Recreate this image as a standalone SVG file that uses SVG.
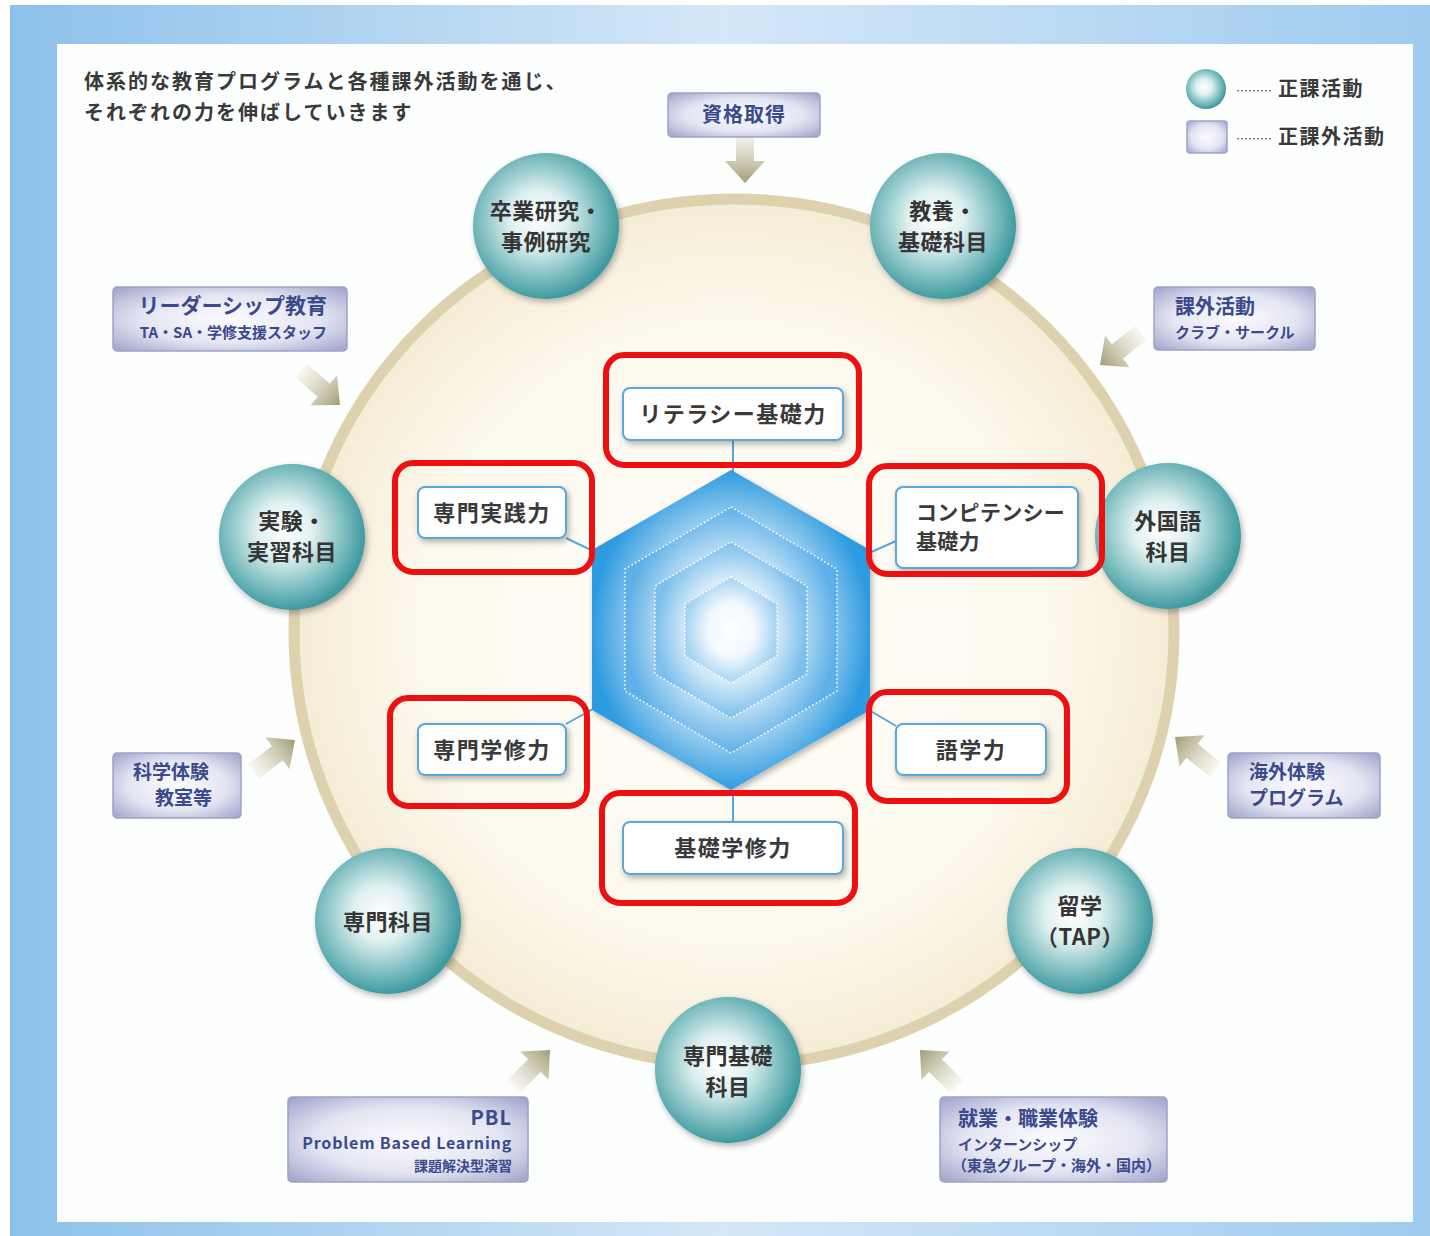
<svg xmlns="http://www.w3.org/2000/svg" width="1430" height="1236" viewBox="0 0 1430 1236">
<defs>
<linearGradient id="bgFrame" x1="0" y1="0" x2="1" y2="0">
<stop offset="0" stop-color="#8dc1ea"/>
<stop offset="0.5" stop-color="#d4e7f7"/>
<stop offset="1" stop-color="#9fcbef"/>
</linearGradient>
<radialGradient id="cream" cx="0.5" cy="0.5" r="0.5">
<stop offset="0" stop-color="#fffefa"/>
<stop offset="0.7" stop-color="#fdf9ee"/>
<stop offset="1" stop-color="#f5ecd6"/>
</radialGradient>
<radialGradient id="ball" cx="0.45" cy="0.45" r="0.55">
<stop offset="0" stop-color="#ffffff"/>
<stop offset="0.35" stop-color="#dff0f0"/>
<stop offset="0.8" stop-color="#6fb6b9"/>
<stop offset="1" stop-color="#3f9aa0"/>
</radialGradient>
<radialGradient id="boxg" cx="0.5" cy="0.5" r="0.7">
<stop offset="0" stop-color="#fbfbfe"/>
<stop offset="0.55" stop-color="#e4e5f2"/>
<stop offset="1" stop-color="#9ea2cb"/>
</radialGradient>
<radialGradient id="h1" cx="0.5" cy="0.5" r="0.5">
<stop offset="0" stop-color="#eaf5fc"/>
<stop offset="0.6" stop-color="#b9dcf4"/>
<stop offset="1" stop-color="#2e9be0"/>
</radialGradient>
<radialGradient id="h2" cx="0.5" cy="0.5" r="0.5">
<stop offset="0" stop-color="#f0f8fd"/>
<stop offset="0.6" stop-color="#c6e3f6"/>
<stop offset="1" stop-color="#5eb0e8"/>
</radialGradient>
<radialGradient id="h3" cx="0.5" cy="0.5" r="0.5">
<stop offset="0" stop-color="#f6fbfe"/>
<stop offset="0.6" stop-color="#d2e9f8"/>
<stop offset="1" stop-color="#7cbfec"/>
</radialGradient>
<radialGradient id="h4" cx="0.5" cy="0.5" r="0.5">
<stop offset="0" stop-color="#ffffff"/>
<stop offset="0.5" stop-color="#f2f9fe"/>
<stop offset="1" stop-color="#a6d3f2"/>
</radialGradient>
<linearGradient id="arrowg" x1="0" y1="0" x2="1" y2="0">
<stop offset="0" stop-color="#f4f3e8" stop-opacity="0.6"/>
<stop offset="1" stop-color="#a19c74"/>
</linearGradient>
<filter id="sh" x="-20%" y="-20%" width="140%" height="140%">
<feGaussianBlur in="SourceAlpha" stdDeviation="3"/>
<feOffset dx="2" dy="3" result="b"/>
<feComponentTransfer><feFuncA type="linear" slope="0.3"/></feComponentTransfer>
<feMerge><feMergeNode/><feMergeNode in="SourceGraphic"/></feMerge>
</filter>
<path id="arr" d="M-52,-9 L-22,-9 L-22,-20 L0,0 L-22,20 L-22,9 L-52,9 Z"/>
</defs>
<style>
text{font-family:"Noto Sans CJK JP","Noto Sans",sans-serif;}
.ct{font-size:22px;font-weight:bold;fill:#353535;text-anchor:middle;letter-spacing:0.5px;}
.bt{font-weight:bold;fill:#3b4a8c;}
.st{font-size:22px;font-weight:bold;fill:#3a3a3a;letter-spacing:1.5px;}
.st2{font-size:21px;font-weight:bold;fill:#3a3a3a;letter-spacing:0.3px;}
.lg{font-size:20px;font-weight:bold;fill:#3a3a3a;letter-spacing:1.5px;}
.ttl{font-size:20px;font-weight:bold;fill:#3a3a3a;letter-spacing:2px;}
.ball{fill:url(#ball);filter:url(#sh);}
.box{fill:url(#boxg);stroke:#9ea2c9;stroke-width:1.5;}
.skill{fill:#ffffff;stroke:#5aa7dc;stroke-width:2;filter:url(#sh);}
.hl{fill:none;stroke:#ee1010;stroke-width:6;}
.conn{stroke:#5aa7dc;stroke-width:2;fill:none;}
.arrow{fill:url(#arrowg);}
.dot{stroke:#ffffff;stroke-width:1.5;stroke-dasharray:1.5 2.5;}
</style>

<!-- background -->
<rect x="10" y="5" width="1420" height="1231" fill="url(#bgFrame)"/>
<rect x="57" y="44" width="1356" height="1178" fill="#fdfefe"/>

<!-- main ring -->
<ellipse cx="734" cy="632" rx="440" ry="433" fill="url(#cream)" stroke="#ddd1ae" stroke-width="11"/>

<!-- title -->
<text x="84" y="89" class="ttl">体系的な教育プログラムと各種課外活動を通じ、</text>
<text x="84" y="120" class="ttl">それぞれの力を伸ばしていきます</text>

<!-- legend -->
<g id="legend">
<circle cx="1206" cy="89" r="20" fill="url(#ball)"/>
<text x="1236" y="96" class="lg"><tspan style="font-size:12px;font-weight:normal;letter-spacing:0">………</tspan> 正課活動</text>
<rect x="1187" y="121" width="40" height="32" rx="3" class="box"/>
<text x="1236" y="144" class="lg"><tspan style="font-size:12px;font-weight:normal;letter-spacing:0">………</tspan> 正課外活動</text>
</g>

<!-- connectors: arrows and hex links -->
<g id="connectors">
<use href="#arr" class="arrow" transform="translate(745,183) rotate(90)"/>
<use href="#arr" class="arrow" transform="translate(340,405) rotate(42)"/>
<use href="#arr" class="arrow" transform="translate(1100,365) rotate(142)"/>
<use href="#arr" class="arrow" transform="translate(295,740) rotate(-37)"/>
<use href="#arr" class="arrow" transform="translate(1175,737) rotate(-141)"/>
<use href="#arr" class="arrow" transform="translate(550,1050) rotate(-45)"/>
<use href="#arr" class="arrow" transform="translate(920,1050) rotate(-135)"/>
<line class="conn" x1="733" y1="440" x2="733" y2="472"/>
<line class="conn" x1="566" y1="538" x2="593" y2="551"/>
<line class="conn" x1="896" y1="541" x2="869" y2="553"/>
<line class="conn" x1="566" y1="724" x2="593" y2="709"/>
<line class="conn" x1="896" y1="726" x2="869" y2="710"/>
<line class="conn" x1="733" y1="790" x2="733" y2="822"/>
</g>

<!-- hexagon -->
<g id="hexagon">
<polygon filter="url(#sh)" points="731,470 870,550 870,710 731,790 592,710 592,550" fill="url(#h1)"/>
<polygon class="dot" fill="url(#h2)" points="731,507 837,569 837,691 731,753 625,691 625,569"/>
<polygon class="dot" fill="url(#h3)" points="731,542 807,586 807,674 731,718 655,674 655,586"/>
<polygon class="dot" fill="url(#h4)" points="731,577 777,604 777,656 731,683 685,656 685,604"/>
</g>

<!-- regular activity circles -->
<g id="c1"><circle class="ball" cx="546" cy="226" r="73"/><text class="ct" x="546" y="219">卒業研究・</text><text class="ct" x="546" y="250">事例研究</text></g>
<g id="c2"><circle class="ball" cx="943" cy="226" r="73"/><text class="ct" x="943" y="219">教養・</text><text class="ct" x="943" y="250">基礎科目</text></g>
<g id="c3"><circle class="ball" cx="292" cy="537" r="73"/><text class="ct" x="292" y="529">実験・</text><text class="ct" x="292" y="560">実習科目</text></g>
<g id="c4"><circle class="ball" cx="1168" cy="536" r="73"/><text class="ct" x="1168" y="529">外国語</text><text class="ct" x="1168" y="560">科目</text></g>
<g id="c5"><circle class="ball" cx="388" cy="921" r="73"/><text class="ct" x="388" y="930">専門科目</text></g>
<g id="c6"><circle class="ball" cx="1080" cy="921" r="73"/><text class="ct" x="1080" y="914">留学</text><text class="ct" x="1080" y="945">（TAP）</text></g>
<g id="c7"><circle class="ball" cx="728" cy="1070" r="73"/><text class="ct" x="728" y="1064">専門基礎</text><text class="ct" x="728" y="1095">科目</text></g>

<!-- extracurricular boxes -->
<g id="b1"><rect class="box" x="668" y="93" width="152" height="44" rx="4"/><text class="bt" x="744" y="122" font-size="20" text-anchor="middle" letter-spacing="1">資格取得</text></g>
<g id="b2"><rect class="box" x="1154" y="287" width="161" height="63" rx="4"/><text class="bt" x="1175" y="314" font-size="20">課外活動</text><text class="bt" x="1175" y="338" font-size="15">クラブ・サークル</text></g>
<g id="b3"><rect class="box" x="113" y="287" width="234" height="64" rx="4"/><text class="bt" x="327" y="313" font-size="21" text-anchor="end">リーダーシップ教育</text><text class="bt" x="327" y="338" font-size="15" text-anchor="end">TA・SA・学修支援スタッフ</text></g>
<g id="b4"><rect class="box" x="113" y="753" width="128" height="65" rx="4"/><text class="bt" x="133" y="779" font-size="19">科学体験</text><text class="bt" x="155" y="805" font-size="19">教室等</text></g>
<g id="b5"><rect class="box" x="1228" y="753" width="152" height="65" rx="4"/><text class="bt" x="1249" y="779" font-size="19">海外体験</text><text class="bt" x="1249" y="805" font-size="19">プログラム</text></g>
<g id="b6"><rect class="box" x="288" y="1097" width="240" height="85" rx="4"/><text class="bt" x="512" y="1125" font-size="20" text-anchor="end" letter-spacing="1">PBL</text><text class="bt" x="512" y="1149" font-size="16" text-anchor="end" letter-spacing="0.8">Problem Based Learning</text><text class="bt" x="512" y="1171" font-size="14" text-anchor="end">課題解決型演習</text></g>
<g id="b7"><rect class="box" x="940" y="1097" width="227" height="85" rx="4"/><text class="bt" x="958" y="1126" font-size="20">就業・職業体験</text><text class="bt" x="958" y="1150" font-size="15">インターンシップ</text><text class="bt" x="952" y="1171" font-size="15">（東急グループ・海外・国内）</text></g>

<!-- skill boxes -->
<g id="s1"><rect class="skill" x="623" y="388" width="220" height="52" rx="7"/><text class="st" x="733" y="422" text-anchor="middle">リテラシー基礎力</text></g>
<g id="s2"><rect class="skill" x="418" y="487" width="148" height="51" rx="7"/><text class="st" x="492" y="521" text-anchor="middle">専門実践力</text></g>
<g id="s3"><rect class="skill" x="896" y="487" width="182" height="81" rx="7"/><text class="st2" x="916" y="520">コンピテンシー</text><text class="st2" x="916" y="549">基礎力</text></g>
<g id="s4"><rect class="skill" x="418" y="724" width="148" height="51" rx="7"/><text class="st" x="492" y="758" text-anchor="middle">専門学修力</text></g>
<g id="s5"><rect class="skill" x="896" y="724" width="150" height="51" rx="7"/><text class="st" x="971" y="758" text-anchor="middle">語学力</text></g>
<g id="s6"><rect class="skill" x="623" y="822" width="220" height="52" rx="7"/><text class="st" x="733" y="856" text-anchor="middle">基礎学修力</text></g>

<!-- red highlights -->
<g id="highlights">
<rect class="hl" x="606" y="355" width="253" height="110" rx="18"/>
<rect class="hl" x="395" y="463" width="197" height="109" rx="18"/>
<rect class="hl" x="869" y="466" width="233" height="108" rx="18"/>
<rect class="hl" x="390" y="698" width="197" height="108" rx="18"/>
<rect class="hl" x="869" y="692" width="198" height="109" rx="18"/>
<rect class="hl" x="602" y="793" width="253" height="110" rx="18"/>
</g>
</svg>
